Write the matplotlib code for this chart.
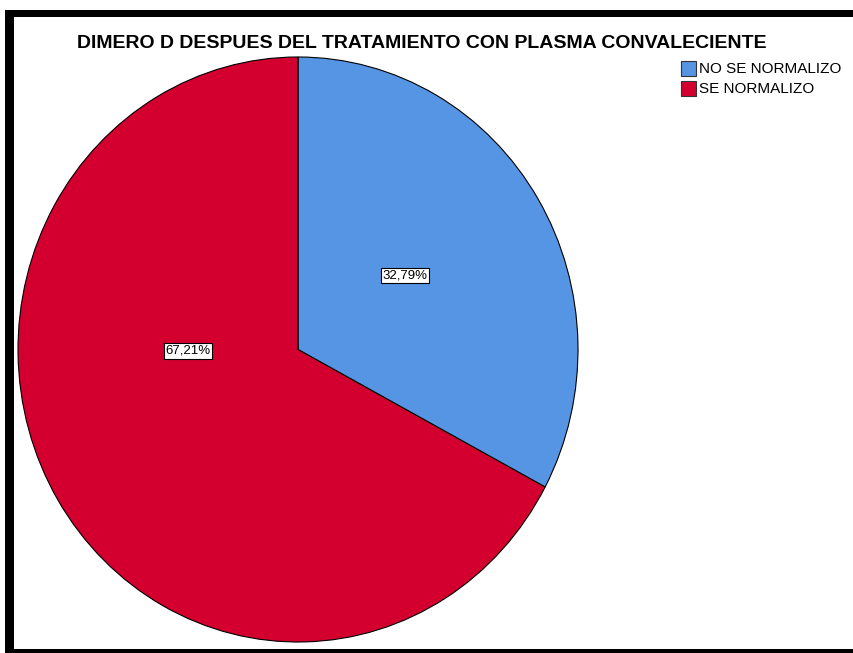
import matplotlib
matplotlib.use('Agg')
import matplotlib.pyplot as plt
from matplotlib.patches import Rectangle

plt.rcParams['font.family'] = ['Liberation Sans', 'DejaVu Sans']

# data
categories = ['NO SE NORMALIZO', 'SE NORMALIZO']
percentages = [32.79, 67.21]
colors = ['#5595E4', '#D3002F']
title = 'DIMERO D DESPUES DEL TRATAMIENTO CON PLASMA CONVALECIENTE'

W, H = 854, 653
fig = plt.figure(figsize=(W / 100, H / 100), dpi=100)

def px(x0, y0, x1, y1):
    # pixel box (top-left origin) -> figure fraction rect
    return [x0 / W, 1 - y1 / H, (x1 - x0) / W, (y1 - y0) / H]

# pie is slightly stretched vertically in the output
ax = fig.add_axes(px(18, 57, 578, 642))
wedges, _ = ax.pie(percentages, colors=colors, startangle=90, counterclock=False,
                   radius=1, wedgeprops=dict(edgecolor='black', linewidth=0.8))
ax.set_aspect('auto')
ax.set_xlim(-1, 1)
ax.set_ylim(-1, 1)

# percentage labels in white boxes
label_pos = [(0.382, 0.252), (-0.393, -0.005)]
for (lx, ly), p in zip(label_pos, percentages):
    ax.text(lx, ly, f'{p:.2f}%'.replace('.', ','), ha='center', va='center', fontsize=9.5,
            bbox=dict(boxstyle='square,pad=0.12', facecolor='white', edgecolor='black', linewidth=0.8))

# title
fig.text(422 / W, 1 - 44 / H, title, ha='center', va='center', fontsize=14, fontweight='bold')

# legend
for i, (cat, c) in enumerate(zip(categories, colors)):
    y = 68 + i * 20
    fig.patches.append(Rectangle((681 / W, 1 - (y + 7.5) / H), 15 / W, 15 / H,
                                 transform=fig.transFigure, facecolor=c, edgecolor='#333333',
                                 linewidth=0.8))
    fig.text(699 / W, 1 - (y + 1) / H, cat, ha='left', va='center', fontsize=11)

# frame around the chart
for box in [(5, 10, 14, 653), (5, 10, 854, 17), (5, 649, 854, 653)]:
    r = px(*box)
    fig.patches.append(Rectangle((r[0], r[1]), r[2], r[3], transform=fig.transFigure,
                                 facecolor='black', edgecolor='none'))

fig.savefig('out.png', dpi=100)
